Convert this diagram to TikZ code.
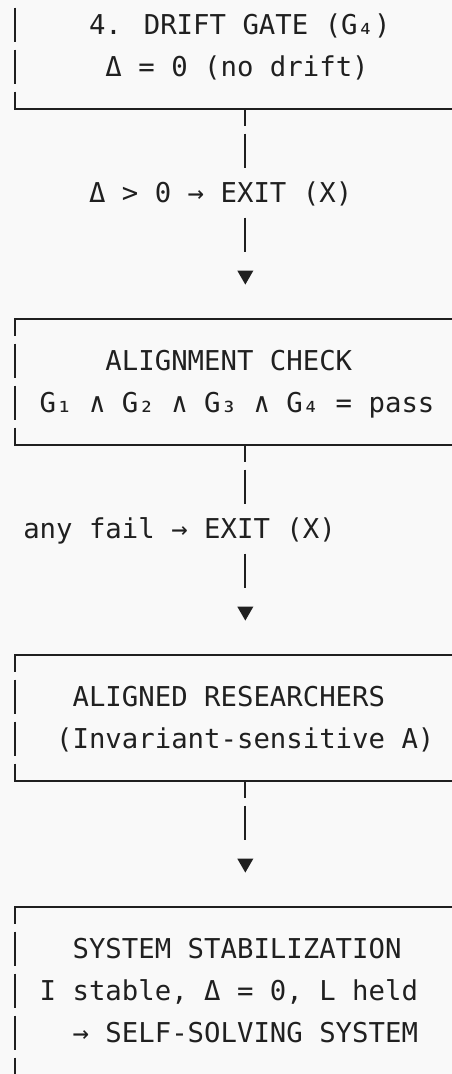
\documentclass[tikz,border=0pt]{standalone}
\usepackage{fontspec}
\newfontfamily\mono{DejaVu Sans Mono}
\usetikzlibrary{shapes.geometric}
\definecolor{bg}{RGB}{249,249,249}
\definecolor{ink}{RGB}{32,32,32}
\newcommand\cs{\rule[-11.04pt]{0pt}{42pt}}
\tikzset{
  panel/.style={rectangle, inner sep=0, outer sep=0, anchor=north west,
    minimum width=470pt, minimum height=#1},
  rim/.style={draw=ink, line width=2pt, line cap=rect},
  side/.style={draw=ink, line width=2pt, dash pattern=on 34.6pt off 7.4pt, dash phase=17.3pt},
  link/.style={side, shorten >=18.4pt},
  txt/.style={inner sep=0, outer sep=0, anchor=west, align=left, text=ink,
    font={\mono\fontsize{27.32}{42}\selectfont}},
  tag/.style={txt, fill=bg},
  head/.style={regular polygon, regular polygon sides=3, shape border rotate=180,
    fill=ink, inner sep=0, outer sep=0, minimum size=18.5pt, yshift=1.7pt}
}
\begin{document}
\begin{tikzpicture}[x=16.45pt, y=-42pt]
  \path[use as bounding box, fill=bg] (-6.8pt,25pt) rectangle (445.2pt,-1049pt);
  \clip (-6.8pt,25pt) rectangle (445.2pt,-1049pt);
  \node[panel=126pt] (drift) at (0.5,-1) {};
  \node[panel=126pt] (check) at (0.5,7) {};
  \node[panel=126pt] (aligned) at (0.5,15) {};
  \node[panel=210pt] (stable) at (0.5,21) {};
  \foreach \b in {drift,check,aligned,stable} {
    \draw[rim] (\b.north east) -- (\b.north west) (\b.south west) -- (\b.south east);
    \draw[side] (\b.north west) -- (\b.south west);
  }
  \node[txt] (drift-txt) at (5,0.5) {\cs 4. DRIFT GATE (G₄)\\\cs ~Δ = 0 (no drift)};
  \node[txt] (check-txt) at (2,8.5) {\cs ~~~~ALIGNMENT CHECK\\\cs G₁ ∧ G₂ ∧ G₃ ∧ G₄ = pass};
  \node[txt] (aligned-txt) at (3,16.5) {\cs ~ALIGNED RESEARCHERS\\\cs (Invariant-sensitive A)};
  \node[txt] (stable-txt) at (2,23) {\cs ~~SYSTEM STABILIZATION\\\cs I stable, Δ = 0, L held\\\cs ~~→ SELF-SOLVING SYSTEM};
  \node[head] (head1) at (14.5,6) {};
  \node[head] (head2) at (14.5,14) {};
  \node[head] (head3) at (14.5,20) {};
  \draw[link] (drift.south -| head1) -- (head1.north);
  \draw[link] (check.south -| head2) -- (head2.north);
  \draw[link] (aligned.south -| head3) -- (head3.north);
  \node[tag] (exit1) at (5,4) {\cs Δ > 0 → EXIT (X)};
  \node[tag] (exit2) at (1,12) {\cs any fail → EXIT (X)};
\end{tikzpicture}
\end{document}
